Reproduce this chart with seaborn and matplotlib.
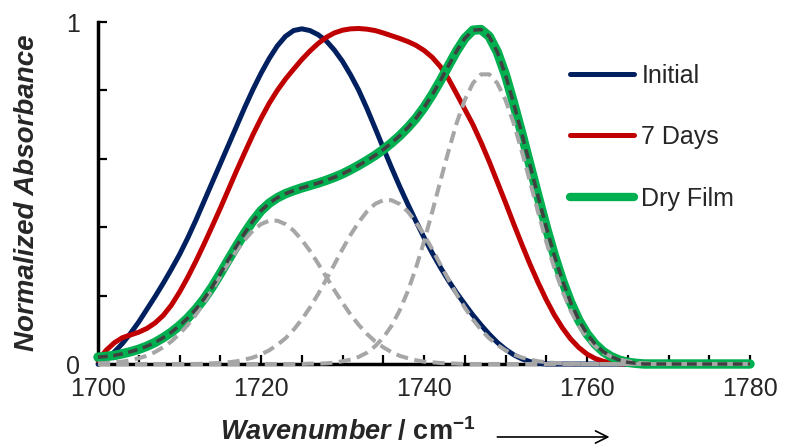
# coding:utf-8
# Normalized carbonyl absorbance: initial / 7 days / dry film + fitted components
import matplotlib
matplotlib.use('Agg')
import matplotlib.pyplot as plt
import seaborn as sns
from matplotlib.lines import Line2D

# x grid (cm^-1)
wavenumber = list(range(1700, 1769)) + [1772, 1776, 1780]

initial = [0.0, 0.015, 0.035, 0.06, 0.09, 0.123, 0.16, 0.197, 0.236, 0.277,
           0.32, 0.368, 0.42, 0.475, 0.53, 0.585, 0.64, 0.695, 0.75, 0.802,
           0.85, 0.893, 0.93, 0.958, 0.975, 0.98, 0.975, 0.963, 0.945, 0.918,
           0.885, 0.845, 0.80, 0.747, 0.69, 0.632, 0.575, 0.52, 0.468, 0.418,
           0.37, 0.325, 0.283, 0.244, 0.208, 0.175, 0.143, 0.114, 0.087, 0.063,
           0.043, 0.027, 0.015, 0.007, 0.002, 0, 0, 0, 0, 0,
           0, 0, 0, 0, 0, 0, 0, 0, 0,
           0, 0, 0]
seven_days = [0.01, 0.04, 0.062, 0.077, 0.085, 0.093, 0.104, 0.12, 0.142, 0.172,
              0.21, 0.253, 0.30, 0.35, 0.402, 0.455, 0.51, 0.565, 0.618, 0.67,
              0.718, 0.762, 0.80, 0.833, 0.862, 0.89, 0.915, 0.937, 0.955, 0.968,
              0.976, 0.98, 0.981, 0.979, 0.975, 0.968, 0.96, 0.952, 0.943, 0.932,
              0.917, 0.897, 0.87, 0.834, 0.79, 0.745, 0.70, 0.648, 0.592, 0.532,
              0.472, 0.41, 0.35, 0.292, 0.238, 0.188, 0.143, 0.105, 0.073, 0.048,
              0.029, 0.016, 0.008, 0.003, 0.001, 0, 0, 0, 0,
              0, 0, 0]
dry_film = [0.02, 0.022, 0.025, 0.03, 0.036, 0.043, 0.052, 0.063, 0.077, 0.093,
            0.112, 0.134, 0.16, 0.19, 0.225, 0.264, 0.305, 0.345, 0.383, 0.418,
            0.448, 0.47, 0.486, 0.498, 0.507, 0.515, 0.522, 0.529, 0.537, 0.546,
            0.556, 0.568, 0.581, 0.595, 0.61, 0.627, 0.646, 0.667, 0.691, 0.718,
            0.75, 0.787, 0.828, 0.872, 0.915, 0.952, 0.976, 0.978, 0.958, 0.912,
            0.845, 0.762, 0.674, 0.582, 0.49, 0.40, 0.317, 0.243, 0.18, 0.128,
            0.088, 0.058, 0.036, 0.021, 0.011, 0.005, 0.002, 0, 0,
            0, 0, 0]
# fitted components of the dry film band
comp_1 = [0.002, 0.003, 0.005, 0.007, 0.011, 0.017, 0.024, 0.035, 0.049, 0.066,
          0.088, 0.114, 0.144, 0.179, 0.216, 0.255, 0.294, 0.331, 0.363, 0.39,
          0.409, 0.419, 0.419, 0.409, 0.39, 0.363, 0.331, 0.294, 0.255, 0.216,
          0.179, 0.144, 0.114, 0.088, 0.066, 0.049, 0.035, 0.024, 0.017, 0.011,
          0.007, 0.005, 0.003, 0.002, 0.001, 0, 0, 0, 0, 0,
          0, 0, 0, 0, 0, 0, 0, 0, 0, 0,
          0, 0, 0, 0, 0, 0, 0, 0, 0,
          0, 0, 0]
comp_2 = [0, 0, 0, 0, 0, 0, 0, 0, 0, 0,
          0, 0, 0, 0.001, 0.002, 0.003, 0.005, 0.008, 0.013, 0.019,
          0.028, 0.04, 0.056, 0.075, 0.10, 0.13, 0.165, 0.204, 0.247, 0.291,
          0.336, 0.378, 0.415, 0.446, 0.468, 0.479, 0.479, 0.468, 0.446, 0.415,
          0.378, 0.336, 0.291, 0.247, 0.204, 0.165, 0.13, 0.10, 0.075, 0.056,
          0.04, 0.028, 0.019, 0.013, 0.008, 0.005, 0.003, 0.002, 0.001, 0,
          0, 0, 0, 0, 0, 0, 0, 0, 0,
          0, 0, 0]
comp_3 = [0, 0, 0, 0, 0, 0, 0, 0, 0, 0,
          0, 0, 0, 0, 0, 0, 0, 0, 0, 0,
          0, 0, 0, 0, 0, 0, 0.001, 0.001, 0.002, 0.004,
          0.008, 0.013, 0.021, 0.033, 0.052, 0.077, 0.111, 0.156, 0.212, 0.28,
          0.358, 0.444, 0.534, 0.622, 0.704, 0.772, 0.821, 0.847, 0.847, 0.821,
          0.772, 0.704, 0.622, 0.534, 0.444, 0.358, 0.28, 0.212, 0.156, 0.111,
          0.077, 0.052, 0.033, 0.021, 0.013, 0.008, 0.004, 0.002, 0.001,
          0, 0, 0]

labels = ['Initial', '7 Days', 'Dry Film']
colors = ['#002060', '#C00000', '#00B050']

sns.set_style('ticks')
plt.rcParams['font.family'] = ['Liberation Sans', 'DejaVu Sans']
plt.rcParams['mathtext.fontset'] = 'custom'
plt.rcParams['mathtext.rm'] = 'Liberation Sans:weight=bold'
plt.rcParams['mathtext.it'] = 'Liberation Sans:style=italic:weight=bold'

fig = plt.figure(figsize=(7.85, 4.47), dpi=100)
ax = fig.add_axes([98/785, 1-364/447, 652/785, 342/447])

sns.lineplot(x=wavenumber, y=initial, ax=ax, color=colors[0], linewidth=3.6, zorder=3, clip_on=False)
sns.lineplot(x=wavenumber, y=seven_days, ax=ax, color=colors[1], linewidth=3.6, zorder=3, clip_on=False)
sns.lineplot(x=wavenumber, y=dry_film, ax=ax, color=colors[2], linewidth=6.8, zorder=3, clip_on=False)
for comp in [comp_1, comp_2, comp_3]:
    sns.lineplot(x=wavenumber, y=comp, ax=ax, color='#A6A6A6', linewidth=2.9,
                 linestyle=(0, (3.0, 1.6)), zorder=4, clip_on=False)
sns.lineplot(x=wavenumber, y=dry_film, ax=ax, color='#404040', linewidth=2.5,
             linestyle=(0, (2.8, 1.6)), zorder=5, clip_on=False)

ax.set_xlim(1700, 1780)
ax.set_ylim(0, 1)
ax.set_xticks([1700 + 5*i for i in range(17)])
ax.set_xticklabels([str(v) if v % 20 == 0 else '' for v in range(1700, 1781, 5)])
ax.set_yticks([0, 0.2, 0.4, 0.6, 0.8, 1.0])
ax.set_yticklabels(['0', '', '', '', '', '1'])
ax.tick_params(axis='both', direction='in', length=6.5, width=1.6, labelsize=18, color='black')
ax.tick_params(axis='x', pad=9)
ax.tick_params(axis='y', pad=13)
sns.despine(ax=ax)
for s in ['left', 'bottom']:
    ax.spines[s].set_linewidth(2.5)
    ax.spines[s].set_color('black')

ax.set_ylabel('Normalized Absorbance', fontsize=20, fontweight='bold', fontstyle='italic', labelpad=19)
ax.text(0.383, -0.199, r'$\mathit{Wavenumber}$ / cm$^{-1}$', transform=ax.transAxes,
        ha='center', va='center', fontsize=19.5, fontweight='bold')
ax.annotate('', xy=(0.78, 0.0224), xytext=(0.63, 0.0224), xycoords='figure fraction',
            arrowprops=dict(arrowstyle='->', lw=1.2, color='black', mutation_scale=22))

handles = [Line2D([], [], color=colors[0], lw=3.6, solid_capstyle='round'),
           Line2D([], [], color=colors[1], lw=3.6, solid_capstyle='round'),
           Line2D([], [], color=colors[2], lw=6, solid_capstyle='round')]
ax.legend(handles, labels, loc='upper left', bbox_to_anchor=(0.705, 0.915), frameon=False,
          fontsize=18, handlelength=2.55, handletextpad=0.3, labelspacing=1.5, borderpad=0)

fig.savefig('out.png', dpi=100)
